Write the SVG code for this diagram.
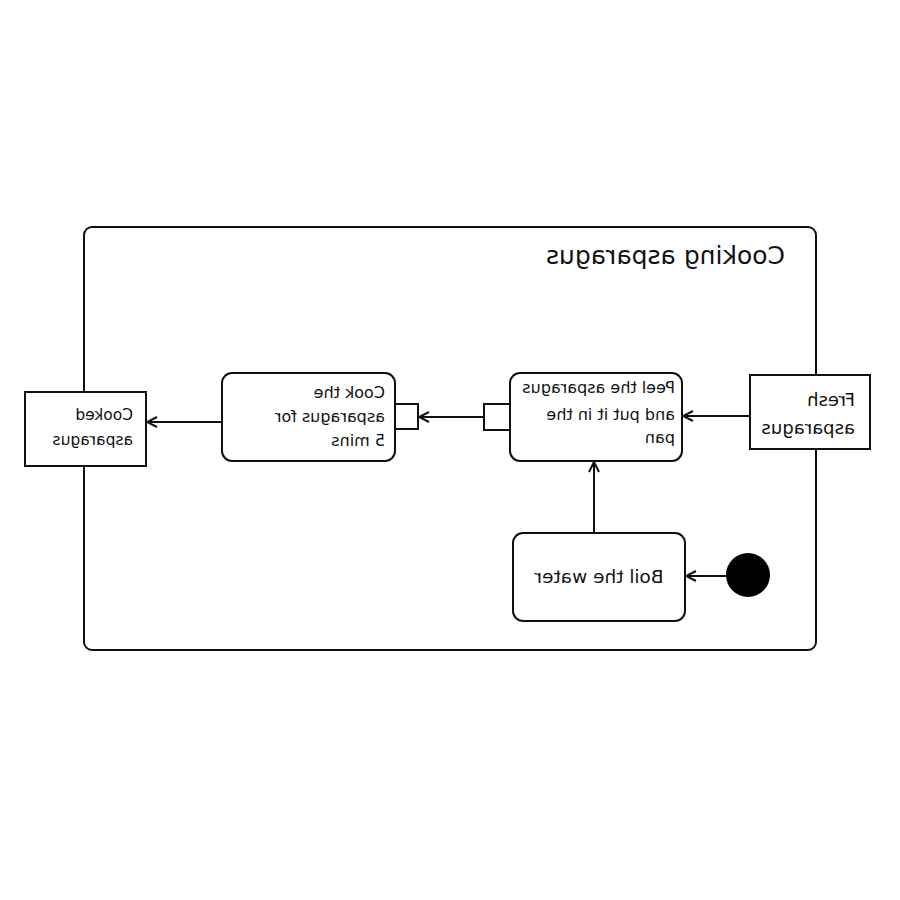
<svg xmlns="http://www.w3.org/2000/svg" width="900" height="900" viewBox="0 0 900 900">
<style>
.box{fill:#fff;stroke:#111;stroke-width:2}
.lbl{font-family:"DejaVu Sans",sans-serif;fill:#111}
.ln{stroke:#111;stroke-width:2;fill:none}
</style>
<defs>
<marker id="arr" viewBox="0 0 12 12" refX="11" refY="6" markerWidth="12" markerHeight="12" markerUnits="userSpaceOnUse" orient="auto">
<path d="M1,1 L11,6 L1,11" fill="none" stroke="#111" stroke-width="2"/>
</marker>
</defs>
<rect width="900" height="900" fill="#fff"/>
<g transform="translate(900,0) scale(-1,1)">
<g id="frame">
<rect class="box" x="84" y="227" width="732" height="423" rx="8"/>
<text class="lbl" x="115" y="264" font-size="25">Cooking asparagus</text>
</g>
<g id="connectors">
<line class="ln" x1="174" y1="576" x2="214" y2="576" marker-end="url(#arr)"/>
<line class="ln" x1="306" y1="533" x2="306" y2="462" marker-end="url(#arr)"/>
<line class="ln" x1="150" y1="416" x2="217" y2="416" marker-end="url(#arr)"/>
<line class="ln" x1="416" y1="417" x2="481" y2="417" marker-end="url(#arr)"/>
<line class="ln" x1="678" y1="422" x2="753" y2="422" marker-end="url(#arr)"/>
</g>
<g id="fresh">
<rect class="box" x="30" y="375" width="120" height="74"/>
<text class="lbl" x="45" y="406" font-size="18">Fresh</text>
<text class="lbl" x="45" y="434" font-size="18">asparagus</text>
</g>
<g id="peel">
<rect class="box" x="218" y="373" width="172" height="88" rx="10"/>
<text class="lbl" x="225" y="393" font-size="16">Peel the asparagus</text>
<text class="lbl" x="225" y="420" font-size="16">and put it in the</text>
<text class="lbl" x="225" y="443" font-size="16">pan</text>
</g>
<g id="pin-out">
<rect class="box" x="390" y="404" width="26" height="26"/>
</g>
<g id="pin-in">
<rect class="box" x="482" y="404" width="25" height="25"/>
</g>
<g id="cook">
<rect class="box" x="505" y="373" width="173" height="88" rx="10"/>
<text class="lbl" x="515" y="398" font-size="16">Cook the</text>
<text class="lbl" x="515" y="422" font-size="16">asparagus for</text>
<text class="lbl" x="515" y="446" font-size="16">5 mins</text>
</g>
<g id="cooked">
<rect class="box" x="754" y="392" width="121" height="74"/>
<text class="lbl" x="767" y="420" font-size="15.5">Cooked</text>
<text class="lbl" x="767" y="445" font-size="15.5">asparagus</text>
</g>
<g id="boil">
<rect class="box" x="215" y="533" width="172" height="88" rx="10"/>
<text class="lbl" x="301" y="583" font-size="18.5" text-anchor="middle">Boil the water</text>
</g>
<g id="start">
<circle cx="152" cy="575" r="22" fill="#000"/>
</g>
</g>
</svg>
